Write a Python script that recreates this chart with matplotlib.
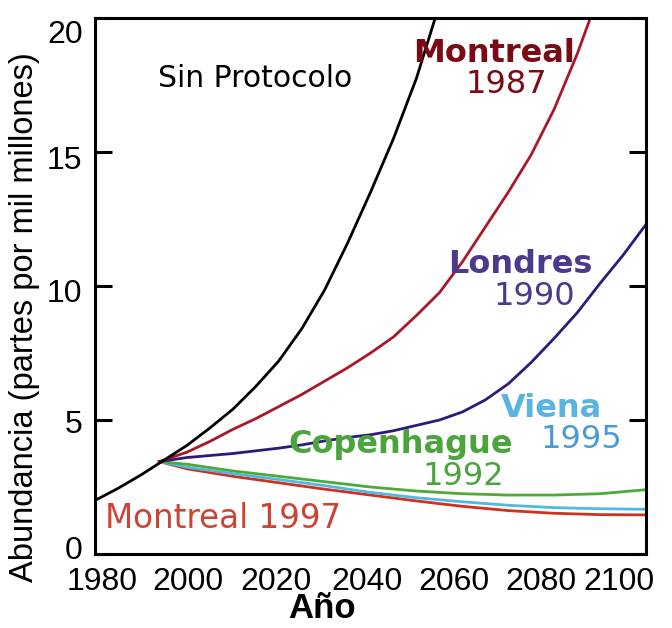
import matplotlib
matplotlib.use("Agg")
import matplotlib.pyplot as plt
from matplotlib.transforms import ScaledTranslation

# Abundancia de cloro estratosférico (partes por mil millones) según protocolo
years_sin = [1980, 1985, 1990, 1995, 2000, 2005, 2010, 2015, 2020, 2025,
             2030, 2035, 2040, 2045, 2050, 2055]
sin_protocolo = [2.0, 2.45, 2.95, 3.5, 4.05, 4.7, 5.4, 6.25, 7.2, 8.4,
                 9.85, 11.6, 13.5, 15.5, 17.75, 20.5]

years_m87 = [1994, 2000, 2005, 2010, 2015, 2020, 2025, 2030, 2035, 2040,
             2045, 2050, 2055, 2060, 2065, 2070, 2075, 2080, 2085, 2090]
montreal_1987 = [3.45, 3.8, 4.2, 4.65, 5.05, 5.5, 5.95, 6.45, 6.95, 7.5,
                 8.1, 8.9, 9.75, 10.9, 12.2, 13.5, 14.9, 16.6, 18.65, 21.0]

years_lon = [1994, 2000, 2010, 2020, 2025, 2030, 2035, 2040, 2045, 2050,
             2055, 2060, 2065, 2070, 2075, 2080, 2085, 2090, 2095, 2100]
londres_1990 = [3.45, 3.6, 3.75, 3.95, 4.07, 4.22, 4.35, 4.45, 4.6, 4.8,
                5.0, 5.3, 5.75, 6.35, 7.15, 8.05, 9.0, 10.1, 11.15, 12.3]

years_low = [1994, 2000, 2010, 2020, 2030, 2040, 2050, 2060, 2070, 2080, 2090, 2100]
copenhague_1992 = [3.45, 3.35, 3.1, 2.9, 2.7, 2.5, 2.35, 2.25, 2.2, 2.2, 2.25, 2.4]
viena_1995 = [3.45, 3.24, 3.0, 2.78, 2.55, 2.3, 2.1, 1.95, 1.82, 1.73, 1.69, 1.67]
montreal_1997 = [3.45, 3.18, 2.9, 2.66, 2.42, 2.2, 1.98, 1.78, 1.62, 1.52, 1.47, 1.46]

x_ticks = [1980, 2000, 2020, 2040, 2060, 2080, 2100]
y_ticks = [0, 5, 10, 15, 20]

plt.rcParams["font.family"] = ["Liberation Sans", "DejaVu Sans"]

fig = plt.figure(figsize=(6.72, 6.28), dpi=100)
ax = fig.add_axes([0.1414, 0.1178, 0.8199, 0.8535])

lw = 2.0
ax.plot(years_low, montreal_1997, color="#d0301e", lw=lw)
ax.plot(years_low, viena_1995, color="#4fb8e3", lw=lw)
ax.plot(years_low, copenhague_1992, color="#4daa38", lw=lw)
ax.plot(years_lon, londres_1990, color="#2e1a7a", lw=lw)
ax.plot(years_m87, montreal_1987, color="#a8182a", lw=lw)
ax.plot(years_sin, sin_protocolo, color="black", lw=lw)

ax.set_xlim(1980, 2100)
ax.set_ylim(0, 20)
ax.set_xticks(x_ticks)
ax.set_yticks(y_ticks)
ax.tick_params(axis="x", length=0, pad=9, labelsize=23)
ax.tick_params(axis="y", direction="in", left=True, right=True,
               length=12, width=2.2, pad=9, labelsize=23)
for sp in ax.spines.values():
    sp.set_linewidth(2.2)

# the original squeezes tick labels a bit towards the middle (pixel nudges)
x_nudge = [7, 1, -3, -4, -8, -13, -27]
y_nudge = [7, -1, -4, -5, -13]
for lbl, dx in zip(ax.get_xticklabels(), x_nudge):
    lbl.set_transform(lbl.get_transform() + ScaledTranslation(dx / 100, 0, fig.dpi_scale_trans))
for lbl, dy in zip(ax.get_yticklabels(), y_nudge):
    lbl.set_transform(lbl.get_transform() + ScaledTranslation(0, dy / 100, fig.dpi_scale_trans))

ax.set_xlabel("Año", fontsize=25, fontweight="bold")
ax.xaxis.set_label_coords(0.412, -0.07)
ax.set_ylabel("Abundancia (partes por mil millones)", fontsize=23.5)
ax.yaxis.set_label_coords(-0.1, 0.442)

lab = dict(family="DejaVu Sans", fontsize=23, va="baseline", ha="center")
ax.text(2014.8, 17.43, "Sin Protocolo", color="black",
        family="DejaVu Sans", fontsize=21.5, va="baseline", ha="center")
ax.text(2066.9, 18.36, "Montreal", color="#7a0a14", fontweight="bold", **lab)
ax.text(2069.5, 17.2, "1987", color="#7a0a14", **lab)
ax.text(2072.6, 10.49, "Londres", color="#4b3a8c", fontweight="bold", **lab)
ax.text(2075.7, 9.29, "1990", color="#4b3a8c", **lab)
ax.text(2079.4, 5.11, "Viena", color="#5ab4e0", fontweight="bold", **lab)
ax.text(2085.9, 3.96, "1995", color="#4a9ad5", **lab)
ax.text(2046.6, 3.77, "Copenhague", color="#4ca43c", fontweight="bold", **lab)
ax.text(2060.2, 2.57, "1992", color="#4ca43c", **lab)
ax.text(1982.2, 0.97, "Montreal 1997", color="#cc4433",
        family="DejaVu Sans", fontsize=23.5, va="baseline", ha="left")

fig.savefig("out.png", dpi=100, facecolor="white")
